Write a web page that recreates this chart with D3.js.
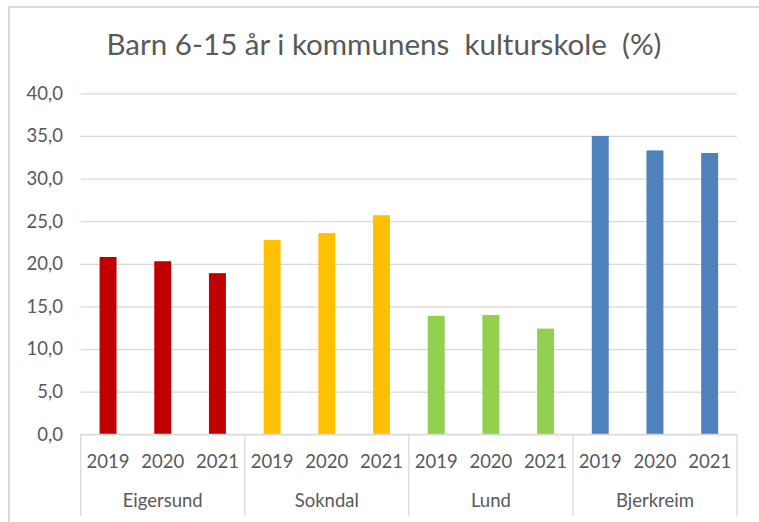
<!DOCTYPE html>
<meta charset="utf-8">
<style>
  html, body { margin: 0; padding: 0; background: #fff; }
  svg { display: block; font-family: Lato, "Open Sans", sans-serif; }
  .tick text, .lbl { fill: #595959; }
</style>
<svg id="chart" width="759" height="522"></svg>
<script src="https://cdn.jsdelivr.net/npm/d3@7"></script>
<script>
  // data
  const groups = ["Eigersund", "Sokndal", "Lund", "Bjerkreim"];
  const years = ["2019", "2020", "2021"];
  const eigersund = [20.8, 20.3, 18.9];
  const sokndal = [22.8, 23.6, 25.7];
  const lund = [13.9, 14.0, 12.4];
  const bjerkreim = [35.0, 33.3, 33.0];
  const series = [eigersund, sokndal, lund, bjerkreim];
  const colors = ["#C00000", "#FFC000", "#92D050", "#4F81BD"];
  const yTicks = [0, 5, 10, 15, 20, 25, 30, 35, 40];

  const plotL = 80.7, plotR = 737, plotT = 93.3, plotB = 434.3;
  const grid = "#d9d9d9";

  let svg = d3.select("#chart");

  // outer frame (left + top edges only visible)
  svg.append("path")
    .attr("d", "M9,530V7H770")
    .attr("fill", "none")
    .attr("stroke", grid)
    .attr("stroke-width", 2);

  svg.append("text")
    .attr("class", "lbl")
    .attr("x", 384).attr("y", 55)
    .attr("text-anchor", "middle")
    .attr("font-size", 28.5)
    .attr("textLength", 555)
    .attr("lengthAdjust", "spacingAndGlyphs")
    .style("white-space", "pre")
    .text("Barn 6-15 år i kommunens  kulturskole  (%)");

  let y = d3.scaleLinear().domain([0, 40]).range([plotB, plotT]);
  let x0 = d3.scaleBand().domain(groups).range([plotL, plotR]);
  let x1 = d3.scaleBand().domain(years).range([0, x0.bandwidth()])
    .paddingInner(0.69).paddingOuter(0.345);

  // gridlines
  let gridAxis = svg.append("g")
    .attr("transform", `translate(${plotL},0)`)
    .call(d3.axisLeft(y).tickValues(yTicks).tickSize(-(plotR - plotL)).tickFormat(""));
  gridAxis.select(".domain").remove();
  gridAxis.selectAll("line").attr("stroke", grid).attr("stroke-width", 1.3);

  // y labels
  let yAxis = svg.append("g")
    .attr("transform", `translate(63,0)`)
    .call(d3.axisLeft(y).tickValues(yTicks).tickSize(0).tickPadding(0)
      .tickFormat(d => d.toFixed(1).replace(".", ",")));
  yAxis.select(".domain").remove();
  yAxis.selectAll("text")
    .attr("font-size", 18.5)
    .attr("font-family", "Lato, sans-serif");

  // bars
  let g = svg.selectAll(".grp")
    .data(groups)
    .join("g")
    .attr("class", "grp")
    .attr("transform", d => `translate(${x0(d)},0)`);

  g.selectAll("rect")
    .data((d, i) => series[i].map((v, j) => ({ year: years[j], v: v, c: colors[i] })))
    .join("rect")
    .attr("x", d => x1(d.year))
    .attr("width", x1.bandwidth())
    .attr("y", d => y(d.v))
    .attr("height", d => y(0) - y(d.v))
    .attr("fill", d => d.c);

  // category axis line and separators
  svg.append("line")
    .attr("x1", plotL).attr("x2", plotR)
    .attr("y1", plotB).attr("y2", plotB)
    .attr("stroke", grid).attr("stroke-width", 1.3);

  let seps = groups.map(d => x0(d)).concat([plotR]);
  svg.selectAll(".sep")
    .data(seps)
    .join("line")
    .attr("class", "sep")
    .attr("x1", d => d).attr("x2", d => d)
    .attr("y1", plotB).attr("y2", 516)
    .attr("stroke", grid).attr("stroke-width", 1.3);

  // year labels
  g.selectAll(".yr")
    .data(years)
    .join("text")
    .attr("class", "lbl yr")
    .attr("x", d => x1(d) + x1.bandwidth() / 2)
    .attr("y", 468)
    .attr("text-anchor", "middle")
    .attr("font-size", 18.5)
    .text(d => d);

  // group labels
  g.append("text")
    .attr("class", "lbl")
    .attr("x", x0.bandwidth() / 2)
    .attr("y", 507)
    .attr("text-anchor", "middle")
    .attr("font-size", 18.5)
    .text(d => d);
</script>
